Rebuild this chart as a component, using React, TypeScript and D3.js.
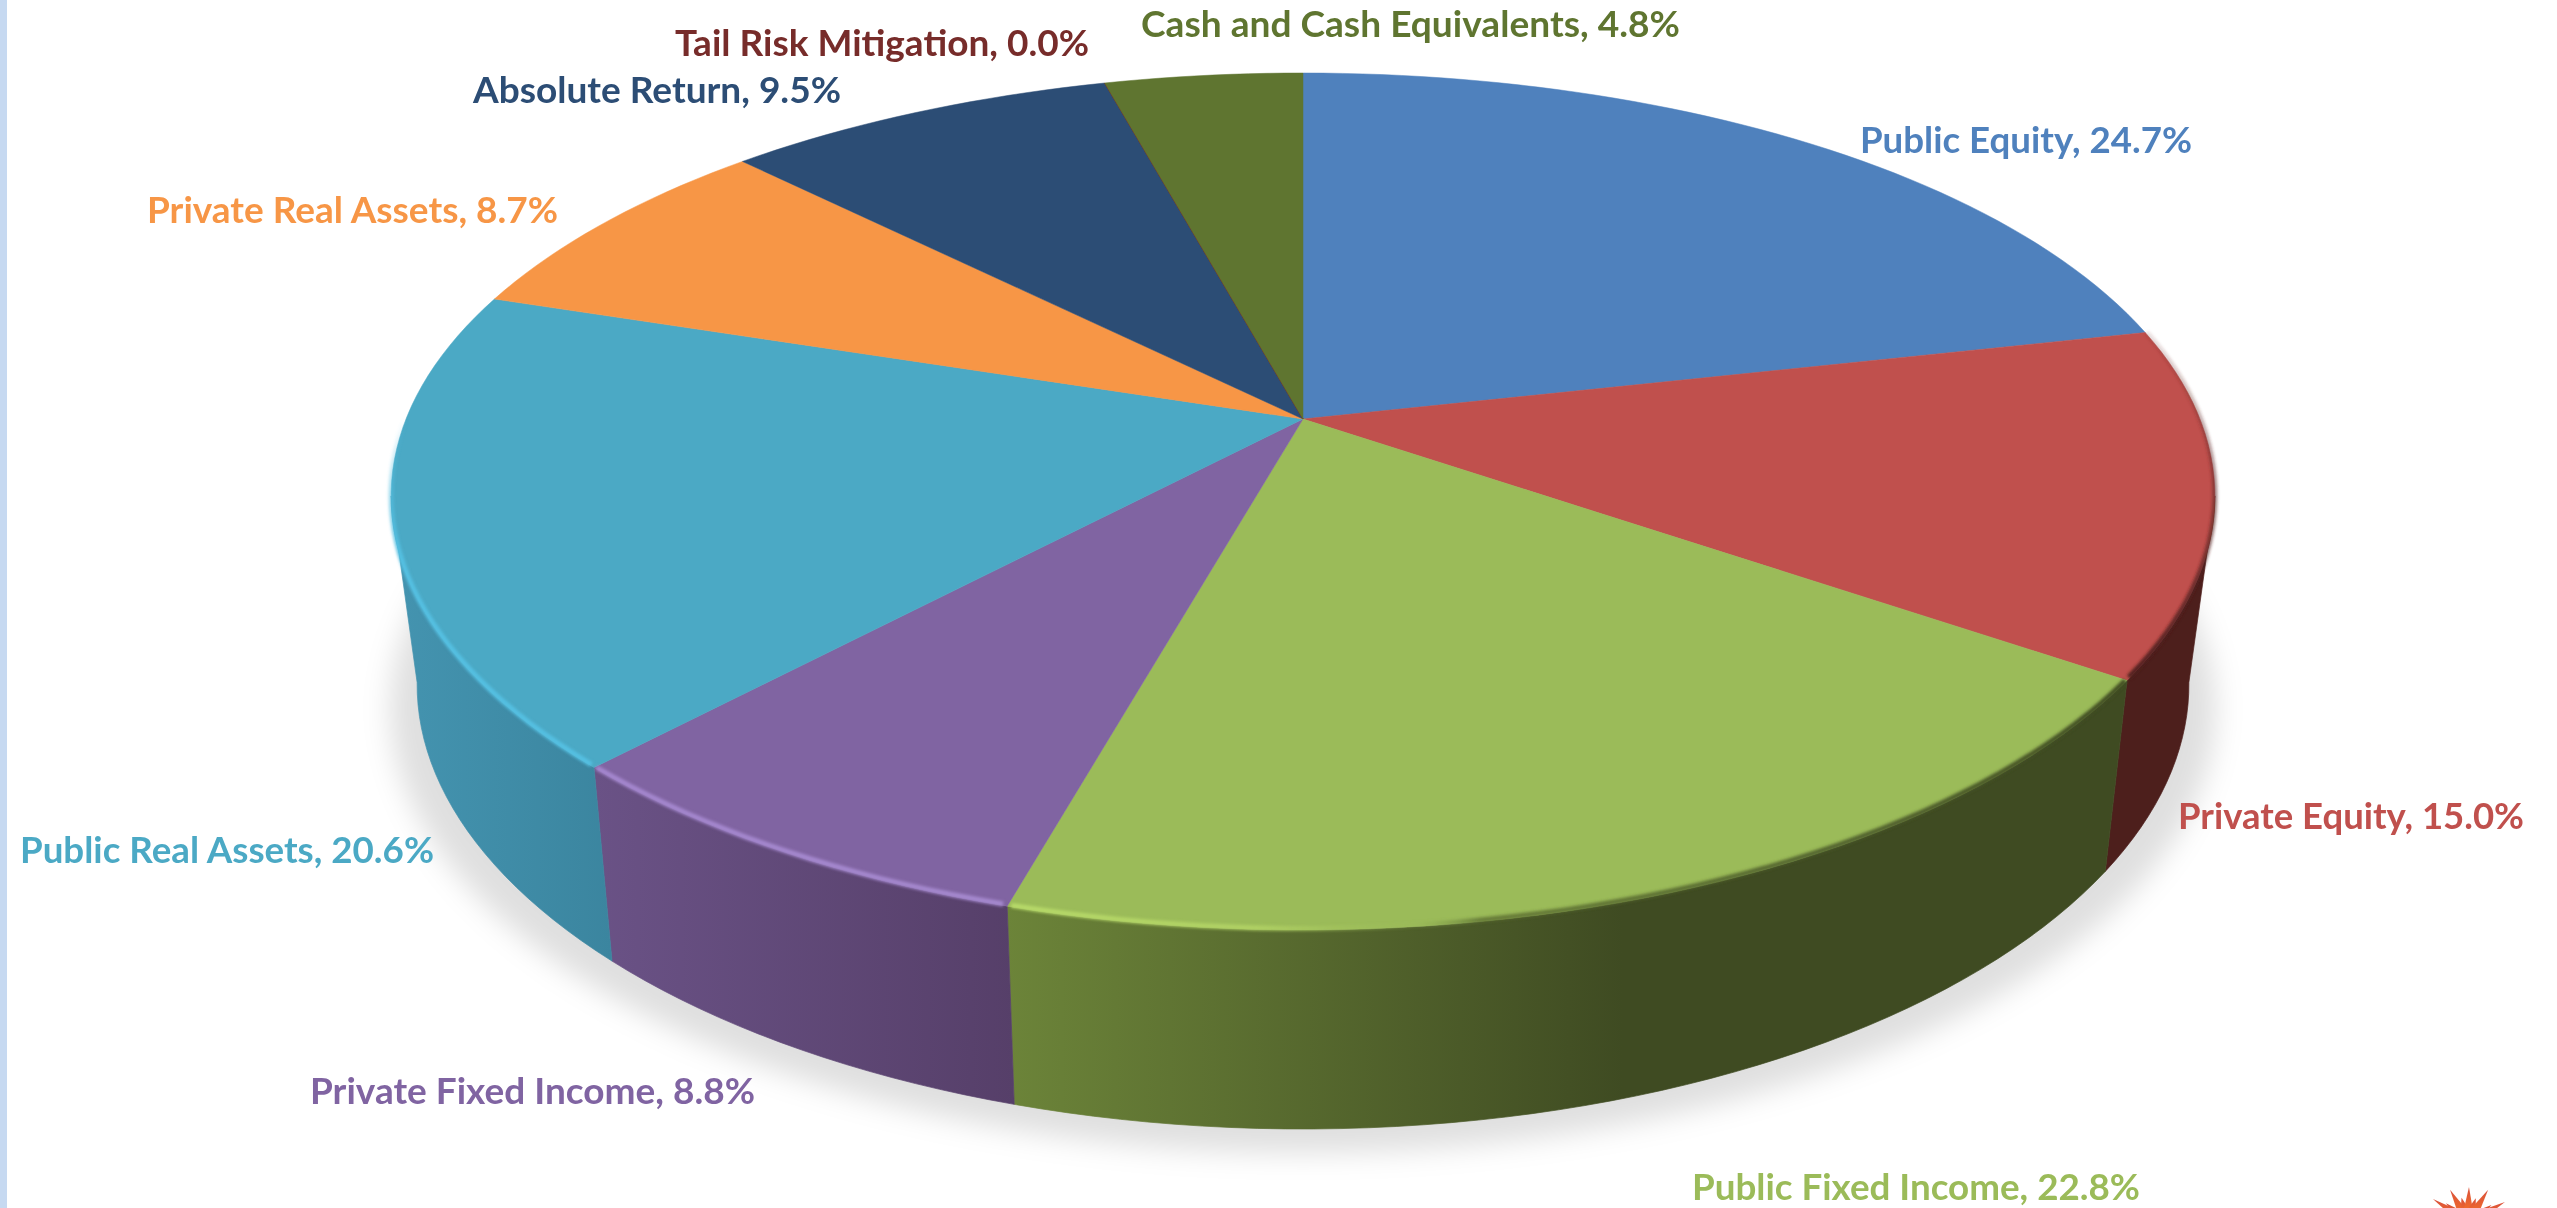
import React from "react";
import * as d3 from "d3";

const WIDTH = 2557;
const HEIGHT = 1208;

// Data
const categories = [
  "Public Equity",
  "Private Equity",
  "Public Fixed Income",
  "Private Fixed Income",
  "Public Real Assets",
  "Private Real Assets",
  "Absolute Return",
  "Tail Risk Mitigation",
  "Cash and Cash Equivalents",
];
const values = [24.7, 15.0, 22.8, 8.8, 20.6, 8.7, 9.5, 0.0, 4.8];

// Styles
const topColors = ["#4f81bd", "#c0504d", "#9bbb59", "#8064a2", "#4ba9c5", "#f79646", "#2c4d75", "#772c2a", "#5f7530"];
const wallFrom = ["#35577f", "#4d1f1c", "#6c8439", "#6a5286", "#4494b0", "#a8652f", "#1e344f", "#501e1c", "#40501f"];
const wallTo = ["#35577f", "#4d1f1c", "#3f4b22", "#563f69", "#3b859f", "#a8652f", "#1e344f", "#501e1c", "#40501f"];
const wallFlatAt = [1, 1, 0.55, 1, 1, 1, 1, 1, 1];
const labelX0 = [1860, 2178, 1692, 310, 20, 147, 473, 675, 1141];
const labelX1 = [2192, 2524, 2140, 755, 434, 558, 841, 1089, 1680];
const labelBase = [153, 829, 1200, 1104, 863, 223, 103, 56, 37];

// Rim: [x or y axis, from, to, stops as [offset, colour, opacity]]
type Rim = { slice: number; axis: "x" | "y"; a: number; b: number; stops: [number, string, number][] };
const rims: Rim[] = [
  { slice: 1, axis: "y", a: 334, b: 680, stops: [[0, "#6b2a26", 0.15], [0.45, "#5a2422", 0.55], [1, "#4d1f1c", 1]] },
  { slice: 2, axis: "x", a: 1010, b: 2130, stops: [[0, "#b7da69", 1], [0.22, "#b2d365", 0.9], [0.36, "#9bbb59", 0.2], [0.42, "#56682e", 0.75], [1, "#3f4b22", 1]] },
  { slice: 3, axis: "x", a: 600, b: 1010, stops: [[0, "#a487cf", 1], [1, "#a589cf", 1]] },
  { slice: 4, axis: "y", a: 420, b: 560, stops: [[0, "#54c0e2", 0], [1, "#54c0e2", 1]] },
];

const burstAngles = [-56.6, -49.6, -29, -15, 1.6, 18, 32, 54, 61.6];
const burstLengths = [42, 29, 37, 25, 35, 25, 38, 29, 42];

// Projection of the tilted disc
const CX = 1303;
const topDisc = { cy: 419, A: 897, B: 412.6, k: 0.1925, kx: 0.18 };
const botDisc = { cy: 604, A: 870.6, B: 420, k: 0.2, kx: 0.185 };
type Disc = typeof topDisc;

// Angles at which the rim turns away from the viewer
const FRONT_START = Math.acos(-topDisc.kx);
const FRONT_END = Math.PI * 2 - FRONT_START;

const project = (t: number, d: Disc): [number, number] => [
  CX + (d.A * Math.sin(t)) / (1 + d.kx * Math.cos(t)),
  d.cy - (d.B * Math.cos(t)) / (1 + d.k * Math.cos(t)),
];
const STEP = Math.PI / 120;
const sample = (a0: number, a1: number) => {
  const n = Math.max(1, Math.ceil(Math.abs(a1 - a0) / STEP));
  return d3.range(n + 1).map((i) => a0 + ((a1 - a0) * i) / n);
};
const line = d3.line<[number, number]>().x((p) => p[0]).y((p) => p[1]);

const arcs = d3.pie<number>().sort(null).value((v) => v)(values);

export default function App() {
  const topPath = (a0: number, a1: number) =>
    line([[CX, topDisc.cy], ...sample(a0, a1).map((t) => project(t, topDisc))]) + "Z";
  const wallPath = (a0: number, a1: number) =>
    line([
      ...sample(a0, a1).map((t) => project(t, topDisc)),
      ...sample(a1, a0).map((t) => project(t, botDisc)),
    ]) + "Z";
  const edgePath = (a0: number, a1: number) => line(sample(a0, a1).map((t) => project(t, topDisc))) || "";
  const wallBounds = (a0: number, a1: number) => {
    const xs = sample(a0, a1).flatMap((t) => [project(t, topDisc)[0], project(t, botDisc)[0]]);
    return d3.extent(xs) as [number, number];
  };
  const frontArcs = arcs
    .map((a, i) => ({ i, a0: Math.max(a.startAngle, FRONT_START), a1: Math.min(a.endAngle, FRONT_END) }))
    .filter((f) => f.a1 > f.a0);
  const shadowPath =
    line(sample(0, Math.PI * 2).map((t) => {
      const [x, y] = project(t, botDisc);
      return [CX + (x - CX) * 1.03, y + 24] as [number, number];
    })) + "Z";

  return (
    <svg
      width={WIDTH}
      height={HEIGHT}
      viewBox={`0 0 ${WIDTH} ${HEIGHT}`}
      style={{ position: "fixed", left: 0, top: 0, display: "block", background: "#fff" }}
    >
      <defs>
        <filter id="shadow" x="-10%" y="-10%" width="120%" height="120%">
          <feGaussianBlur stdDeviation="14" />
        </filter>
        <filter id="rim" x="-10%" y="-10%" width="120%" height="120%">
          <feGaussianBlur stdDeviation="1.7" />
        </filter>
        {frontArcs.map((f) => {
          const [x0, x1] = wallBounds(f.a0, f.a1);
          return (
            <linearGradient key={f.i} id={`wall${f.i}`} gradientUnits="userSpaceOnUse" x1={x0} x2={x1} y1={0} y2={0}>
              <stop offset={0} stopColor={wallFrom[f.i]} />
              <stop offset={wallFlatAt[f.i]} stopColor={wallTo[f.i]} />
            </linearGradient>
          );
        })}
        {rims.map((r) => (
          <linearGradient
            key={r.slice}
            id={`rim${r.slice}`}
            gradientUnits="userSpaceOnUse"
            x1={r.axis === "x" ? r.a : 0}
            x2={r.axis === "x" ? r.b : 0}
            y1={r.axis === "y" ? r.a : 0}
            y2={r.axis === "y" ? r.b : 0}
          >
            {r.stops.map((s, j) => (
              <stop key={j} offset={s[0]} stopColor={s[1]} stopOpacity={s[2]} />
            ))}
          </linearGradient>
        ))}
        <linearGradient id="burst" x1="0" x2="0" y1="0" y2="1">
          <stop offset={0} stopColor="#d9503a" />
          <stop offset={1} stopColor="#f4702a" />
        </linearGradient>
      </defs>

      <rect x={0} y={0} width={7} height={HEIGHT} fill="#c6d9f1" />

      <path d={shadowPath} fill="#000" fillOpacity={0.125} filter="url(#shadow)" />

      <g>
        {frontArcs.map((f) => (
          <path
            key={f.i}
            d={wallPath(f.a0, f.a1)}
            fill={`url(#wall${f.i})`}
            stroke={`url(#wall${f.i})`}
            strokeWidth={0.7}
          />
        ))}
      </g>

      <g>
        {arcs.map((a, i) => (
          <path
            key={i}
            d={topPath(a.startAngle, a.endAngle)}
            fill={topColors[i]}
            stroke={topColors[i]}
            strokeWidth={values[i] === 0 ? 1 : 0.5}
          />
        ))}
      </g>

      <g filter="url(#rim)">
        {rims.map((r) => {
          const a = arcs[r.slice];
          return (
            <path
              key={r.slice}
              d={edgePath(a.startAngle + 0.004, a.endAngle - 0.004)}
              fill="none"
              stroke={`url(#rim${r.slice})`}
              strokeWidth={5}
              transform="translate(0,-1.5)"
            />
          );
        })}
      </g>

      <g fontFamily="Lato, Carlito, sans-serif" fontWeight={700} fontSize={35.5}>
        {categories.map((c, i) => (
          <text
            key={c}
            x={labelX0[i]}
            y={labelBase[i]}
            fill={topColors[i]}
            textLength={labelX1[i] - labelX0[i]}
            lengthAdjust="spacingAndGlyphs"
          >
            {`${c}, ${d3.format(".1f")(values[i])}%`}
          </text>
        ))}
      </g>

      <g fill="url(#burst)">
        {burstAngles.map((deg, i) => {
          const t = (deg * Math.PI) / 180;
          const ox = 2468;
          const oy = 1222;
          const base = 5;
          const r0 = 10;
          const ux = Math.sin(t);
          const uy = -Math.cos(t);
          const pts: [number, number][] = [
            [ox + ux * r0 - uy * base, oy + uy * r0 + ux * base],
            [ox + ux * burstLengths[i], oy + uy * burstLengths[i]],
            [ox + ux * r0 + uy * base, oy + uy * r0 - ux * base],
          ];
          return <path key={i} d={line(pts) + "Z"} />;
        })}
      </g>
    </svg>
  );
}
